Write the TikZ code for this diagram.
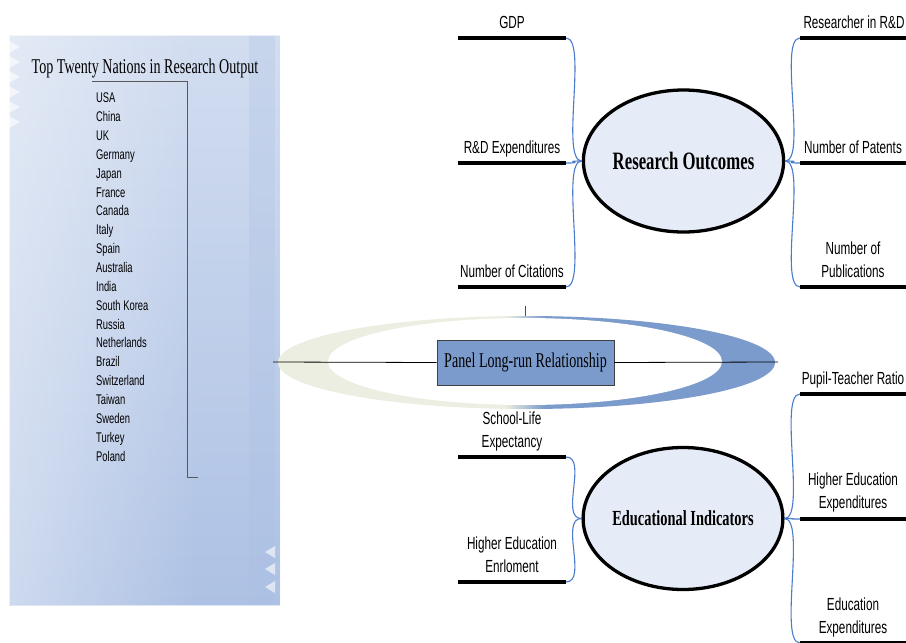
\documentclass[tikz,border=0pt]{standalone}
\usepackage{fontspec}
\usetikzlibrary{shapes.geometric,fadings}
\newfontfamily\lab[FakeStretch=0.67]{Liberation Sans}
\newfontfamily\ser[FakeStretch=0.67]{Liberation Serif}
\definecolor{panelTop}{HTML}{D2DDF0}
\definecolor{panelBot}{HTML}{ADC1E4}
\definecolor{panelBand}{HTML}{A9BFE3}
\definecolor{ringpale}{HTML}{ECEEE1}
\definecolor{ringblue}{HTML}{7A9BCC}
\definecolor{boxfill}{HTML}{7B9BCC}
\definecolor{hubfill}{HTML}{E6ECF7}
\definecolor{connblue}{HTML}{4A7CCC}
\begin{document}
\begin{tikzpicture}[x=1pt,y=-1pt,
  lbl/.style={font=\lab\fontsize{17.5}{23}\selectfont, anchor=base, align=center, inner sep=0},
  bar/.style={line width=4pt, black},
  conn/.style={draw=connblue, line width=1.1pt},
  hub/.style={ellipse, draw=black, line width=3.3pt, fill=hubfill, minimum width=173pt, minimum height=142pt, inner sep=0},
  chev/.style={fill=white, fill opacity=0.6},
]
\useasboundingbox (0,0) rectangle (906,643);
\clip (0,0) rectangle (906,643);
\fill[white] (0,0) rectangle (906,643);

% ---------- left panel ----------
\shade[top color=panelTop, bottom color=panelBot] (9,35) rectangle (280,605);
\fill[white, path fading=east, fill opacity=0.4] (9,35) rectangle (200,605);
\fill[panelBand, fill opacity=0.25] (249,35) rectangle (275,605);
\draw[white, opacity=0.6, line width=0.8pt] (9,35) rectangle (280,605);
\foreach \yy in {47,62,77,92,107,122}
  \fill[chev] (9,\yy-6) -- (20,\yy) -- (9,\yy+6) -- cycle;
\foreach \yy in {552,569,587}
  \fill[chev] (275,\yy-6) -- (265,\yy) -- (275,\yy+6) -- cycle;

\node[font=\ser\fontsize{21}{25}\selectfont, anchor=base, inner sep=0] (title) at (145,73) {Top Twenty Nations in Research Output};
\coordinate (brA) at (92,81);
\coordinate (brB) at (187,81);
\coordinate (brC) at (187,477);
\coordinate (brD) at (198,477);
\draw[gray!70!black, line width=0.7pt] (brA) -- (brB) -- (brC) -- (brD);
\node[font=\lab\fontsize{14}{18.85}\selectfont, align=left, anchor=base west, inner sep=0] (countries) at (96,461)
 {USA\\China\\UK\\Germany\\Japan\\France\\Canada\\Italy\\Spain\\Australia\\India\\South Korea\\Russia\\Netherlands\\Brazil\\Switzerland\\Taiwan\\Sweden\\Turkey\\Poland};

% ---------- ring ----------
\begin{scope}
\clip (526.5,362.5) ellipse [x radius=248.5, y radius=46.5];
\fill[ringpale] (270,300) rectangle (505,420);
\shade[left color=ringpale, right color=ringblue] (505,300) rectangle (545,420);
\fill[ringblue] (545,300) rectangle (780,420);
\end{scope}
\fill[white] (525,361.5) ellipse [x radius=197, y radius=43.5];
\coordinate (tkA) at (525,306);
\coordinate (tkB) at (525,316);
\draw[gray!60!black, line width=0.8pt] (tkA) -- (tkB);

\coordinate (hl) at (273,362);
\coordinate (hr) at (778,362);
\node[draw=black!75, line width=0.8pt, fill=boxfill, minimum width=177pt, minimum height=45pt, inner sep=0,
      font=\ser\fontsize{21}{25}\selectfont] (plr) at (525.5,362.5) {Panel Long-run Relationship};
\draw[black, line width=0.8pt] (hl) -- (plr.west);
\draw[black, line width=0.8pt] (plr.east) -- (hr);

% ---------- hubs ----------
\node[hub, font=\ser\bfseries\fontsize{25}{29}\selectfont] (ro) at (683.5,161) {Research Outcomes};
\node[hub, font=\ser\bfseries\fontsize{21.5}{25}\selectfont] (ei) at (683,518.5) {Educational Indicators};

% ---------- research outcomes branches ----------
\coordinate (gdpA) at (458,38);  \coordinate (gdpB) at (566,38);
\coordinate (rdA) at (458,163);  \coordinate (rdB) at (566,163);
\coordinate (citA) at (458,287); \coordinate (citB) at (566,287);
\coordinate (resA) at (800,38);  \coordinate (resB) at (910,38);
\coordinate (patA) at (800,163); \coordinate (patB) at (910,163);
\coordinate (pubA) at (800,287); \coordinate (pubB) at (910,287);
\foreach \p in {gdp,rd,cit,res,pat,pub} \draw[bar] (\p A) -- (\p B);

\node[lbl] (gdp) at (512,28) {GDP};
\node[lbl] (rd) at (512,153) {R\&D Expenditures};
\node[lbl] (cit) at (512,277) {Number of Citations};
\node[lbl] (res) at (854,28) {Researcher in R\&D};
\node[lbl] (pat) at (853,153) {Number of Patents};
\node[lbl] (pub) at (853,277) {Number of\\Publications};

\foreach \p in {gdp,rd,cit}
  \draw[conn] (\p B) .. controls +(22,0) and +(-22,0) .. (ro.west);
\foreach \p in {res,pat,pub}
  \draw[conn] (ro.east) .. controls +(22,0) and +(-22,0) .. (\p A);

% ---------- educational indicators branches ----------
\coordinate (sleA) at (458,457); \coordinate (sleB) at (566,457);
\coordinate (heeA) at (458,582); \coordinate (heeB) at (566,582);
\coordinate (ptrA) at (800,394); \coordinate (ptrB) at (910,394);
\coordinate (hexA) at (800,519); \coordinate (hexB) at (910,519);
\coordinate (edxA) at (800,643); \coordinate (edxB) at (910,643);
\foreach \p in {sle,hee,ptr,hex,edx} \draw[bar] (\p A) -- (\p B);

\node[lbl] (sle) at (512,447) {School-Life\\Expectancy};
\node[lbl] (hee) at (512,572) {Higher Education\\Enrloment};
\node[lbl] (ptr) at (853,384) {Pupil-Teacher Ratio};
\node[lbl] (hex) at (853,508) {Higher Education\\Expenditures};
\node[lbl] (edx) at (853,633) {Education\\Expenditures};

\foreach \p in {sle,hee}
  \draw[conn] (\p B) .. controls +(22,0) and +(-22,0) .. (ei.west);
\foreach \p in {ptr,hex,edx}
  \draw[conn] (ei.east) .. controls +(22,0) and +(-22,0) .. (\p A);
\end{tikzpicture}
\end{document}
